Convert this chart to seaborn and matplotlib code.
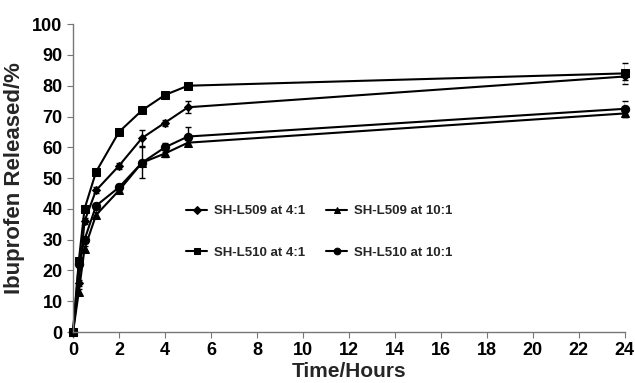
import numpy as np
import pandas as pd
import matplotlib
matplotlib.use("Agg")
import matplotlib.pyplot as plt
import seaborn as sns

time = [0, 0.25, 0.5, 1, 2, 3, 4, 5, 24]
series_names = ["SH-L509 at 4:1", "SH-L509 at 10:1", "SH-L510 at 4:1", "SH-L510 at 10:1"]
l509_41 = [0, 16, 36, 46, 54, 63, 68, 73, 83]
l509_101 = [0, 13, 27, 38, 46, 55, 58, 61.5, 71]
l510_41 = [0, 23, 40, 52, 65, 72, 77, 80, 84]
l510_101 = [0, 22, 30, 41, 47, 55, 60, 63.5, 72.5]
err_509_41 = [0, 1, 1, 1, 1, 2.5, 1, 2, 1]
err_509_101 = [0, 1, 1, 1, 1, 1, 1, 1, 1]
err_510_41 = [0, 1, 1, 1, 1, 1, 1, 1, 3.5]
err_510_101 = [0, 1, 1, 1, 1, 5, 1.5, 3, 2.5]
markers = ["D", "^", "s", "o"]
msizes = [4.5, 6, 5.5, 6]

sns.set_style("ticks")
plt.rcParams['font.family'] = ['Liberation Sans', 'DejaVu Sans']

fig = plt.figure(figsize=(6.35, 3.83), dpi=100)
ax = fig.add_axes([0.115, 0.133, 0.869, 0.804])

vals = [l509_41, l509_101, l510_41, l510_101]
errs = [err_509_41, err_509_101, err_510_41, err_510_101]
for name, v, e, m, ms in zip(series_names, vals, errs, markers, msizes):
    df = pd.DataFrame({"t": time, "v": v})
    sns.lineplot(data=df, x="t", y="v", ax=ax, color="black", lw=1.5,
                 marker=m, markersize=ms, markeredgecolor="black",
                 markerfacecolor="black", label=name)
    ax.errorbar(time, v, yerr=e, fmt="none", ecolor="black", elinewidth=1,
                capsize=2.5, capthick=1)

h, l = ax.get_legend_handles_labels()
order = [0, 2, 1, 3]
ax.legend([h[i] for i in order], [l[i] for i in order], ncol=2, frameon=False,
          loc="center", bbox_to_anchor=(0.446, 0.325), handlelength=1.6,
          labelspacing=2.2, columnspacing=1.6, handletextpad=0.5,
          markerscale=0.8, prop={"weight": "bold", "size": 9.5})

ax.set_xlim(0, 24)
ax.set_ylim(0, 100)
ax.set_xticks(range(0, 25, 2))
ax.set_yticks(range(0, 101, 10))
for s in ["top", "right"]:
    ax.spines[s].set_visible(False)
for s in ["left", "bottom"]:
    ax.spines[s].set_color("#777777")
    ax.spines[s].set_linewidth(1)
ax.tick_params(axis="both", colors="#777777", labelcolor="black", length=4,
               labelsize=13, direction="out")
for t in ax.get_xticklabels() + ax.get_yticklabels():
    t.set_fontweight("bold")
ax.set_xlabel("Time/Hours", fontsize=15, fontweight="bold", labelpad=2)
ax.set_ylabel("Ibuprofen Released/%", fontsize=16, fontweight="bold", labelpad=5)
for ln in ax.lines:
    ln.set_clip_on(False)

fig.savefig("out.png", dpi=100)
